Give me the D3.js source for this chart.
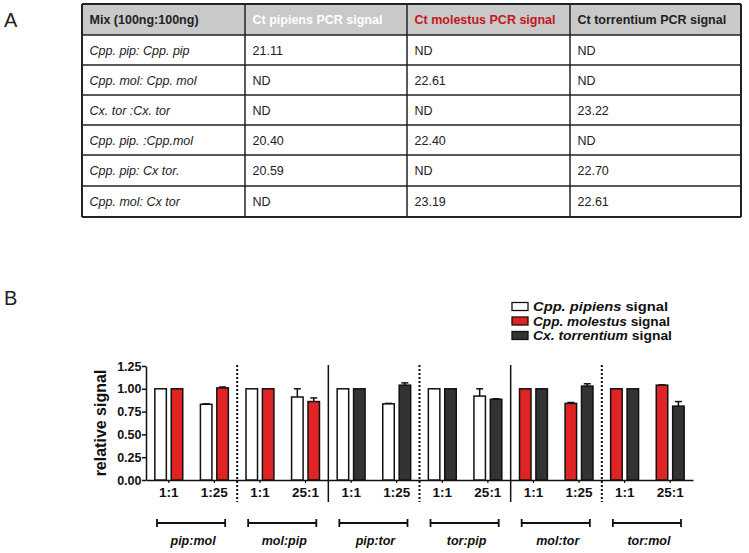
<!DOCTYPE html>
<html><head><meta charset="utf-8">
<script src="https://cdn.jsdelivr.net/npm/d3@7"></script>
<style>body{margin:0;background:#fff}svg{display:block}</style>
</head><body>
<svg id="c" width="749" height="553"></svg>
<script>
// ---- Table data (panel A)
const tableHeaders = ["Mix (100ng:100ng)", "Ct pipiens PCR signal", "Ct molestus PCR signal", "Ct torrentium PCR signal"];
const tableMixes = ["Cpp. pip: Cpp. pip", "Cpp. mol: Cpp. mol", "Cx. tor :Cx. tor", "Cpp. pip. :Cpp.mol", "Cpp. pip: Cx tor.", "Cpp. mol: Cx tor"];
const ctPipiens = ["21.11", "ND", "ND", "20.40", "20.59", "ND"];
const ctMolestus = ["ND", "22.61", "ND", "22.40", "ND", "23.19"];
const ctTorrentium = ["ND", "ND", "23.22", "ND", "22.70", "22.61"];

// ---- Bar chart data (panel B)
const mixes = ["pip:mol", "mol:pip", "pip:tor", "tor:pip", "mol:tor", "tor:mol"];
const ratios = ["1:1", "1:25", "1:1", "25:1", "1:1", "1:25", "1:1", "25:1", "1:1", "1:25", "1:1", "25:1"];
// series per ratio group: [first bar species, second bar species]
const firstSpecies  = ["pip","pip","pip","pip","pip","pip","pip","pip","mol","mol","mol","mol"];
const secondSpecies = ["mol","mol","mol","mol","tor","tor","tor","tor","tor","tor","tor","tor"];
const firstValues  = [1.00, 0.83, 1.00, 0.91, 1.00, 0.835, 1.00, 0.92, 1.00, 0.84, 1.00, 1.04];
const firstErrors  = [0, 0.005, 0, 0.09, 0, 0.005, 0, 0.08, 0, 0.01, 0, 0.003];
const secondValues = [1.00, 1.01, 1.00, 0.86, 1.00, 1.04, 1.00, 0.885, 1.00, 1.03, 1.00, 0.81];
const secondErrors = [0, 0.01, 0, 0.04, 0, 0.025, 0, 0.005, 0, 0.025, 0, 0.05];
const yTicks = [0, 0.25, 0.5, 0.75, 1.0, 1.25];
const separators = ["dotted", "solid", "dotted", "solid", "dotted"];
const legendLabels = [["Cpp. pipiens", " signal"], ["Cpp. molestus", " signal"], ["Cx. torrentium", " signal"]];
const legendSpecies = ["pip", "mol", "tor"];

const colors = {pip: "#ffffff", mol: "#e02424", tor: "#333333"};
const FONT = "Arial, 'Liberation Sans', Helvetica, sans-serif";

const svg = d3.select("#c").style("font-family", FONT);

// ---------- Panel A ----------
svg.append("text").attr("x", 4).attr("y", 27).attr("font-size", 20).attr("fill", "#222").text("A");
const colX = [82, 245, 407, 570, 741];
const rowY = [4, 35, 65, 95, 125, 155, 186, 217];
const tbl = svg.append("g");
tbl.append("rect").attr("x", colX[0]).attr("y", rowY[0]).attr("width", colX[4]-colX[0]).attr("height", rowY[1]-rowY[0]).attr("fill", "#c9c9c9");
const headColors = ["#222", "#ffffff", "#c4161c", "#222"];
tableHeaders.forEach((h, i) => {
  tbl.append("text").attr("x", colX[i] + 7.5).attr("y", (rowY[0]+rowY[1])/2 + 4.5)
    .attr("font-size", 12.5).attr("font-weight", "bold").attr("fill", headColors[i]).text(h);
});
const cols = [tableMixes, ctPipiens, ctMolestus, ctTorrentium];
tableMixes.forEach((m, r) => {
  cols.forEach((col, c) => {
    tbl.append("text").attr("x", colX[c] + 7.5).attr("y", (rowY[r+1]+rowY[r+2])/2 + 4.5)
      .attr("font-size", 12.5).attr("font-style", c === 0 ? "italic" : "normal")
      .attr("fill", "#222").text(col[r]);
  });
});
rowY.forEach((y, i) => {
  tbl.append("line").attr("x1", colX[0]).attr("x2", colX[4]).attr("y1", y).attr("y2", y)
    .attr("stroke", "#222").attr("stroke-width", (i === 0 || i === rowY.length-1) ? 2 : 1.5);
});
colX.forEach((x, i) => {
  tbl.append("line").attr("x1", x).attr("x2", x).attr("y1", rowY[0]).attr("y2", rowY[rowY.length-1])
    .attr("stroke", "#222").attr("stroke-width", (i === 0 || i === colX.length-1) ? 2 : 1.5);
});

// ---------- Panel B ----------
svg.append("text").attr("x", 4).attr("y", 305).attr("font-size", 20).attr("fill", "#222").text("B");

const x0 = 146, x1 = 693, yTop = 366, yBase = 480;
const groupIdx = ratios.map((_, i) => i);
const xb = d3.scaleBand().domain(groupIdx).range([x0, x1]).padding(0);
const y = d3.scaleLinear().domain([0, 1.25]).range([yBase, yTop]);
const barW = 11.5, off = 8.2;

const g = svg.append("g");
// y axis
const yAxis = d3.axisLeft(y).tickValues(yTicks).tickFormat(d3.format(".2f")).tickSize(4).tickSizeOuter(0);
const ya = g.append("g").attr("transform", `translate(${x0},0)`).call(yAxis);
ya.select(".domain").attr("stroke", "#111").attr("stroke-width", 1.5);
ya.selectAll(".tick line").attr("stroke", "#111").attr("stroke-width", 1.5);
ya.selectAll(".tick text").attr("font-size", 12.5).attr("font-weight", "bold").attr("fill", "#111").attr("font-family", FONT).attr("x", -4.5);

g.append("text").attr("transform", `translate(106,${(yTop+yBase)/2}) rotate(-90)`)
  .attr("text-anchor", "middle").attr("font-size", 16).attr("font-weight", "bold").attr("fill", "#111").text("relative signal");

// x axis
const xAxis = d3.axisBottom(xb).tickFormat(i => ratios[i]).tickSize(3).tickSizeOuter(0);
const xa = g.append("g").attr("transform", `translate(0,${yBase})`).call(xAxis);
xa.select(".domain").attr("stroke", "#111").attr("stroke-width", 1.5);
xa.selectAll(".tick line").attr("stroke", "#111").attr("stroke-width", 1.2);
xa.selectAll(".tick text").attr("font-size", 13.5).attr("font-weight", "bold").attr("fill", "#111").attr("font-family", FONT).attr("y", 7);

// separators
separators.forEach((s, k) => {
  const sx = xb(2*(k+1)) ;
  g.append("line").attr("x1", sx).attr("x2", sx).attr("y1", yTop-1).attr("y2", 502)
    .attr("stroke", "#111").attr("stroke-width", s === "solid" ? 1.5 : 2)
    .attr("stroke-dasharray", s === "solid" ? null : "2,2");
});

// bars
const bars = [];
groupIdx.forEach(i => {
  bars.push({i, sp: firstSpecies[i], v: firstValues[i], e: firstErrors[i], dx: -off});
  bars.push({i, sp: secondSpecies[i], v: secondValues[i], e: secondErrors[i], dx: off});
});
const bg = g.append("g");
bars.forEach(b => {
  const cx = xb(b.i) + xb.bandwidth()/2 + b.dx;
  if (b.e > 0) {
    bg.append("line").attr("x1", cx).attr("x2", cx).attr("y1", y(b.v)).attr("y2", y(b.v + b.e)).attr("stroke", "#111").attr("stroke-width", 1.5);
    bg.append("line").attr("x1", cx - 3.5).attr("x2", cx + 3.5).attr("y1", y(b.v + b.e)).attr("y2", y(b.v + b.e)).attr("stroke", "#111").attr("stroke-width", 1.5);
  }
  bg.append("rect").attr("x", cx - barW/2).attr("y", y(b.v)).attr("width", barW).attr("height", yBase - y(b.v))
    .attr("fill", colors[b.sp]).attr("stroke", "#111").attr("stroke-width", 1.5);
});

// mix brackets
mixes.forEach((m, k) => {
  const a = xb(2*k) + 11, bEnd = xb(2*k+1) + xb.bandwidth() - 12;
  const by = 523;
  g.append("line").attr("x1", a).attr("x2", bEnd).attr("y1", by).attr("y2", by).attr("stroke", "#111").attr("stroke-width", 1.8);
  [a, bEnd].forEach(px => g.append("line").attr("x1", px).attr("x2", px).attr("y1", by-4).attr("y2", by+4).attr("stroke", "#111").attr("stroke-width", 1.8));
  g.append("text").attr("x", (a+bEnd)/2 + 2).attr("y", 545).attr("text-anchor", "middle")
    .attr("font-size", 12.5).attr("font-weight", "bold").attr("font-style", "italic").attr("fill", "#111").text(m);
});

// legend
const lg = svg.append("g");
const legendWidths = [135, 137, 139];
legendSpecies.forEach((sp, k) => {
  const ly = 306.5 + k*14.5;
  lg.append("rect").attr("x", 512).attr("y", ly - 4).attr("width", 16).attr("height", 8)
    .attr("fill", colors[sp]).attr("stroke", "#111").attr("stroke-width", 1.3);
  const t = lg.append("text").attr("x", 533).attr("y", ly + 4.5).attr("font-size", 12.5).attr("font-weight", "bold").attr("fill", "#111")
    .attr("textLength", legendWidths[k]).attr("lengthAdjust", "spacingAndGlyphs");
  t.append("tspan").attr("font-style", "italic").text(legendLabels[k][0]);
  t.append("tspan").text(legendLabels[k][1]);
});
</script>
</body></html>
